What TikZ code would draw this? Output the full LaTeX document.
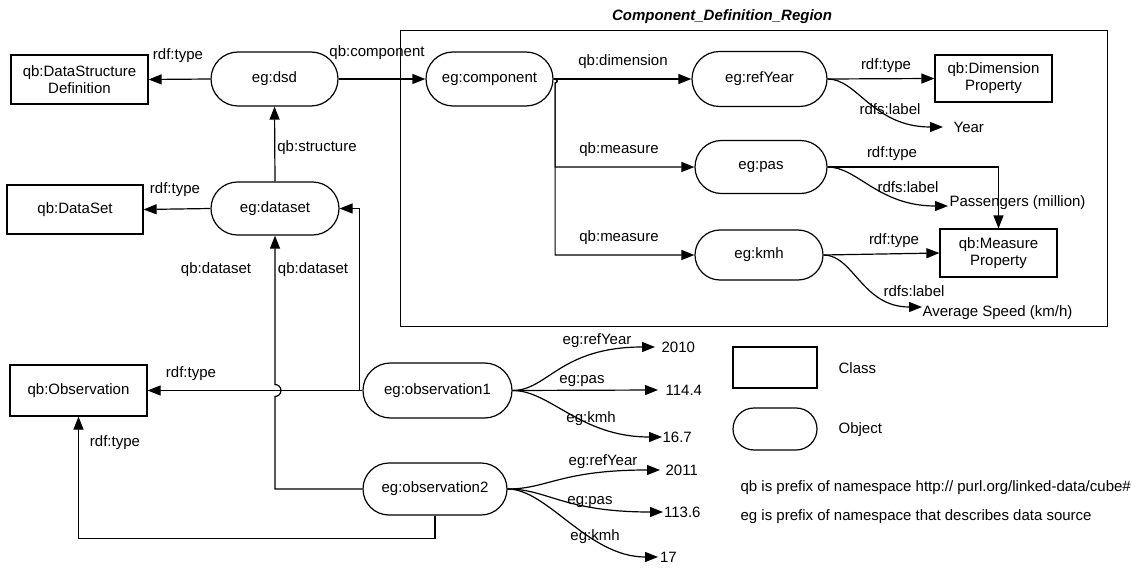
\documentclass[tikz,border=0pt]{standalone}
\usepackage{fontspec}
\setmainfont{Liberation Sans}
\usetikzlibrary{arrows.meta,shapes.misc}
\begin{document}
\begin{tikzpicture}[x=1pt,y=-1pt,>={Triangle[length=13pt,width=10pt]},
  font=\fontsize{15}{17}\selectfont,line width=1.2pt,
  cls/.style 2 args={draw,rectangle,align=center,inner sep=0pt,minimum width=#1pt,minimum height=#2pt},
  obj/.style 2 args={draw,rounded rectangle,inner sep=0pt,minimum width=#1pt,minimum height=#2pt},
  lbl/.style={inner sep=0pt},
  val/.style={anchor=west,inner sep=1pt}]
\useasboundingbox (0,0) rectangle (1137,572);
% classes left
\node[cls={137}{49}] (dsdcls) at (79.5,79.5) {qb:DataStructure\\Definition};
\node[cls={136}{49}] (dscls) at (75,209.5) {qb:DataSet};
\node[cls={137}{51}] (obscls) at (78.5,390.5) {qb:Observation};
% objects
\node[obj={127}{54}] (dsd) at (274.5,79) {eg:dsd};
\node[obj={128}{53}] (dataset) at (275,208.5) {eg:dataset};
\node[obj={149}{55}] (obs1) at (437.5,390.5) {eg:observation1};
\node[obj={144}{52}] (obs2) at (435,489) {eg:observation2};
% region begin
\node[draw,line width=1pt,inner sep=0pt,minimum width=707pt,minimum height=295pt] (region) at (753.5,178.5) {};
\node[lbl,font=\fontsize{15}{17}\selectfont\bfseries\itshape] (regtitle) at (722,17) {Component\_Definition\_Region};
\node[obj={127}{54}] (comp) at (489.5,79) {eg:component};
\node[obj={135}{55}] (refyear) at (759.5,79) {eg:refYear};
\node[obj={132}{53}] (pas) at (761,167) {eg:pas};
\node[obj={128}{50}] (kmh) at (759,255) {eg:kmh};
\node[cls={117}{47}] (dimcls) at (993.5,78.5) {qb:Dimension\\Property};
\node[cls={117}{48}] (meacls) at (998.5,253) {qb:Measure\\Property};
\node[val,inner xsep=10pt] (year) at (943,127) {Year};
\node[val] (pass) at (948,203) {Passengers (million)};
\node[val,inner xsep=0pt] (avg) at (922,313) {Average Speed (km/h)};
% region end
% values
\node[val,inner xsep=6pt] (v2010) at (655,347) {2010};
\node[val,inner xsep=7pt] (v1144) at (658,390) {114.4};
\node[val,inner xsep=0pt] (v167) at (662,437) {16.7};
\node[val,inner xsep=5pt] (v2011) at (660,470) {2011};
\node[val,inner xsep=0.5pt] (v1136) at (663,512) {113.6};
\node[val,inner xsep=1.5pt] (v17) at (658,557) {17};
% connectors
\draw[->] (dsd.west) -- (dsdcls.east);
\draw[->] (dsd.east) -- (comp.west);
\draw[->] (dataset.north) -- (dsd.south);
\draw[->] (dataset.west) -- (dscls.east);
\draw[->] (comp.east) -- (refyear.west);
\draw[->] (comp.east) -- ++(1.5,0) arc[start angle=90,end angle=-90,radius=2pt] |- (pas.west);
\draw[->] (comp.east) -- ++(1.5,0) arc[start angle=90,end angle=-90,radius=2pt] |- (kmh.west);
\draw[->] (refyear.east) -- (dimcls.west);
\draw[->] (refyear.east) .. controls +(30,0) and +(-70,0) .. (year.west);
\draw[->] (pas.east) -| (meacls.north);
\draw[->] (pas.east) .. controls +(30,0) and +(-70,0) .. ([yshift=-3pt]pass.west);
\draw[->] (kmh.east) -- (meacls.west);
\draw[->] (kmh.east) .. controls +(30,0) and +(-60,0) .. ([yshift=6pt]avg.west);
\draw[->] (obs1.west) -- (obscls.east);
\draw[->] (obs1.west) -- ++(-3,0) |- (dataset.east);
\draw[->] (obs2.west) -| ([yshift=-6pt]dataset.south |- obs1.west) arc[start angle=-90,end angle=90,radius=6pt] -- (dataset.south);
\draw[->] (obs2.south) -- ++(0,23) -| (obscls.south);
\draw[->] (obs1.east) .. controls +(35,0) and +(-95,0) .. (v2010.west);
\draw[->] (obs1.east) -- (v1144.west);
\draw[->] (obs1.east) .. controls +(38,0) and +(-82,0) .. (v167.west);
\draw[->] (obs2.east) .. controls +(40,0) and +(-100,0) .. (v2011.west);
\draw[->] (obs2.east) .. controls +(40,0) and +(-100,0) .. (v1136.west);
\draw[->] (obs2.east) .. controls +(40,0) and +(-70,0) .. (v17.west);
% edge labels
\node[lbl] at (178,56) {rdf:type};
\node[lbl] at (377,53) {qb:component};
\node[lbl] at (317,148) {qb:structure};
\node[lbl] at (175,190) {rdf:type};
\node[lbl] at (216,270) {qb:dataset};
\node[lbl] at (313,270) {qb:dataset};
\node[lbl] at (191,374) {rdf:type};
\node[lbl] at (115,443) {rdf:type};
\node[lbl] at (623,62) {qb:dimension};
\node[lbl] at (619,150) {qb:measure};
\node[lbl] at (619,238) {qb:measure};
\node[lbl] at (886,66) {rdf:type};
\node[lbl] at (890,109) {rdfs:label};
\node[lbl] at (892,154) {rdf:type};
\node[lbl] at (908,187) {rdfs:label};
\node[lbl] at (894,241) {rdf:type};
\node[lbl] at (914,291) {rdfs:label};
\node[lbl] at (597,341) {eg:refYear};
\node[lbl] at (582,381) {eg:pas};
\node[lbl] at (591,419) {eg:kmh};
\node[lbl] at (603,462) {eg:refYear};
\node[lbl] at (590,502) {eg:pas};
\node[lbl] at (595,537) {eg:kmh};
% legend
\node[cls={84}{41}] (lgcls) at (775,367.5) {};
\node[lbl,anchor=west] (lgclstxt) at (838,368) {Class};
\node[obj={84}{42}] (lgobj) at (775,429) {};
\node[lbl,anchor=west] (lgobjtxt) at (838,430) {Object};
\node[lbl,anchor=west] (nsqb) at (740,488) {qb is prefix of namespace http:// purl.org/linked-data/cube\#};
\node[lbl,anchor=west] (nseg) at (740,517) {eg is prefix of namespace that describes data source};
\end{tikzpicture}
\end{document}
